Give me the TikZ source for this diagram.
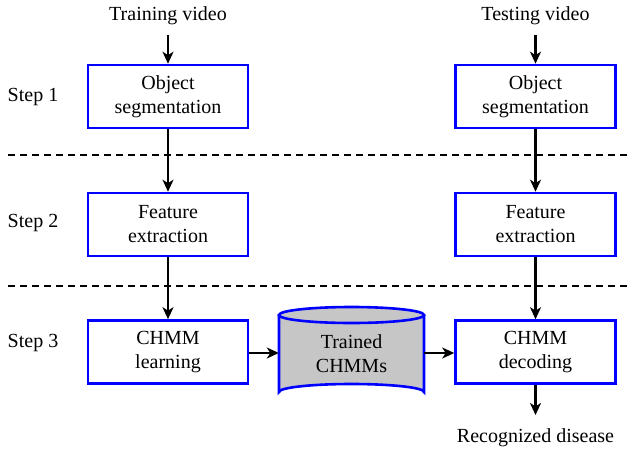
\documentclass[tikz,border=0pt]{standalone}
\usepackage{fontspec}
\setmainfont{Liberation Serif}
\usetikzlibrary{arrows.meta}
\begin{document}
\begin{tikzpicture}[x=1pt,y=-1pt,
  stepbox/.style={draw=blue,line width=2.6pt,minimum width=160pt,minimum height=63pt,align=center,font=\fontsize{20}{24}\selectfont,inner sep=0pt},
  lbl/.style={font=\fontsize{20}{24}\selectfont,inner sep=0pt,align=center},
  arr/.style={-{Stealth[length=12pt,width=11pt,inset=3.5pt]},line width=2.2pt},
  sep/.style={line width=1.6pt,dash pattern=on 7pt off 5pt}]
\useasboundingbox (0,0) rectangle (628,452);
% separators
\draw[sep] (8,155) -- (628,155);
\draw[sep] (8,286) -- (628,286);
% step labels
\node[lbl] (s1) at (33,97) {Step 1};
\node[lbl] (s2) at (33,223) {Step 2};
\node[lbl] (s3) at (33,343) {Step 3};
% left column
\node[lbl] (tv) at (168,16) {Training video};
\coordinate (tva) at (168,35);
\node[stepbox] (o1) at (168,96.5) {Object\\segmentation};
\node[stepbox] (f1) at (168,224.5) {Feature\\extraction};
\node[stepbox] (c1) at (168,352) {CHMM\\learning};
% right column
\node[lbl] (sv) at (535.5,16) {Testing video};
\coordinate (sva) at (535.5,35);
\node[stepbox] (o2) at (535.5,96.5) {Object\\segmentation};
\node[stepbox] (f2) at (535.5,224.5) {Feature\\extraction};
\node[stepbox] (c2) at (535.5,352) {CHMM\\decoding};
\coordinate (rd) at (535.5,415);
\node[lbl] (rdl) at (535.5,438) {Recognized disease};
% cylinder
\fill[gray!45] (279,315) -- (279,392) arc[start angle=180,end angle=360,x radius=72.5,y radius=8] -- (424,315) arc[start angle=360,end angle=180,x radius=72.5,y radius=8] -- cycle;
\fill[gray!45] (351.5,315) ellipse[x radius=72.5,y radius=8];
\draw[blue,line width=2.6pt] (279,315) -- (279,392) arc[start angle=180,end angle=360,x radius=72.5,y radius=8] -- (424,315);
\draw[blue,line width=2.6pt] (351.5,315) ellipse[x radius=72.5,y radius=8];
\node[lbl,minimum width=145pt,minimum height=90pt] (db) at (351.5,354) {Trained\\CHMMs};
% arrows
\draw[arr] (tva) -- (o1);
\draw[arr] (o1) -- (f1);
\draw[arr] (f1) -- (c1);
\draw[arr] (sva) -- (o2);
\draw[arr] (o2) -- (f2);
\draw[arr] (f2) -- (c2);
\draw[arr] (c2) -- (rd);
\draw[arr] (c1.east |- 0,353) -- (db.west |- 0,353);
\draw[arr] (db.east |- 0,353) -- (c2.west |- 0,353);
\end{tikzpicture}
\end{document}
